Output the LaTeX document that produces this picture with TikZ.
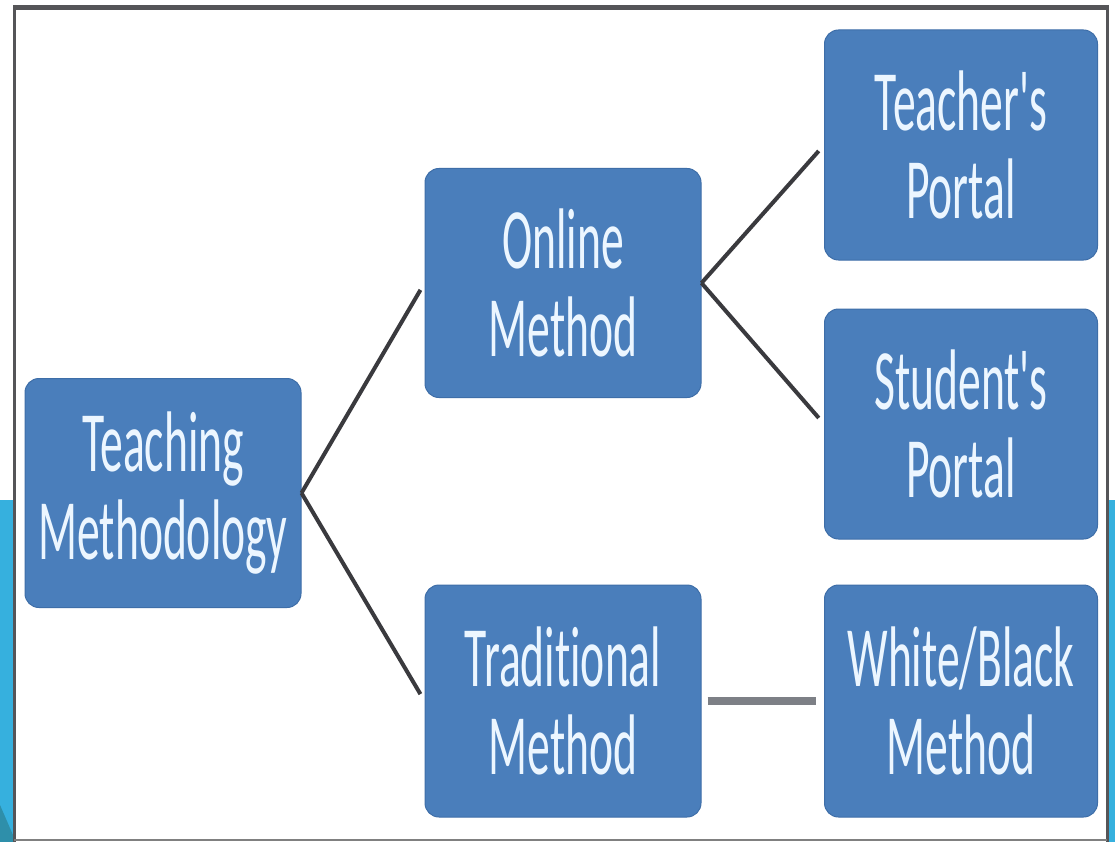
\documentclass[tikz,border=0pt]{standalone}
\usepackage{fontspec}
\newfontfamily\boxfont{Carlito}[FakeStretch=0.53, Ligatures=NoCommon]
\definecolor{boxblue}{RGB}{74,126,187}
\definecolor{boxedge}{RGB}{62,110,168}
\definecolor{boxtext}{RGB}{236,246,255}
\definecolor{connline}{RGB}{58,58,62}
\definecolor{flatline}{RGB}{125,128,134}
\definecolor{bandblue}{RGB}{54,176,222}
\definecolor{bandteal}{RGB}{46,143,170}
\definecolor{framegrey}{RGB}{85,85,88}
\tikzset{
  box/.style={rectangle, rounded corners=14pt, fill=boxblue, draw=boxedge, line width=1pt,
    minimum width=276pt, minimum height=229pt, inner sep=0pt, align=center,
    text=boxtext, font=\boxfont\fontsize{86}{88}\selectfont},
  conn/.style={draw=connline, line width=4pt, shorten >=8pt},
  flat/.style={draw=flatline, line width=8pt, shorten >=8pt, shorten <=6pt}
}
\begin{document}
\begin{tikzpicture}[x=1pt,y=-1pt]
\useasboundingbox (0,0) rectangle (1115,842);
\fill[white] (0,0) rectangle (1115,842);
% side bands
\fill[bandblue] (0,500) rectangle (13,842);
\fill[bandteal] (0,805) -- (13,835) -- (13,842) -- (0,842) -- cycle;
\fill[bandblue] (1108,500) rectangle (1115,842);
% frame
\draw[framegrey, line width=5pt] (13,7.5) -- (1108,7.5);
\draw[framegrey, line width=3pt] (14.5,5) -- (14.5,842);
\draw[framegrey, line width=3pt] (1107,5) -- (1107,842);
\draw[gray, line width=2pt] (14,840) -- (1107,840);
% nodes
\node[box] (teach) at (163,493) {Teaching\\Methodology};
\node[box] (online) at (563,283) {Online\\Method};
\node[box, minimum height=232pt] (trad) at (563,701) {Traditional\\Method};
\node[box, minimum width=273pt, minimum height=230pt] (tport) at (961,145) {Teacher's\\Portal};
\node[box, minimum width=273pt, minimum height=230pt] (sport) at (961,424) {Student's\\Portal};
\node[box, minimum width=273pt, minimum height=232pt] (wb) at (961,701) {White/Black\\Method};
% connectors
\draw[conn] (teach.east) -- (online.west);
\draw[conn] (teach.east) -- (trad.west);
\draw[conn] (online.east) -- (tport.west);
\draw[conn] (online.east) -- (sport.west);
\draw[flat] (trad.east) -- (wb.west);
\end{tikzpicture}
\end{document}
